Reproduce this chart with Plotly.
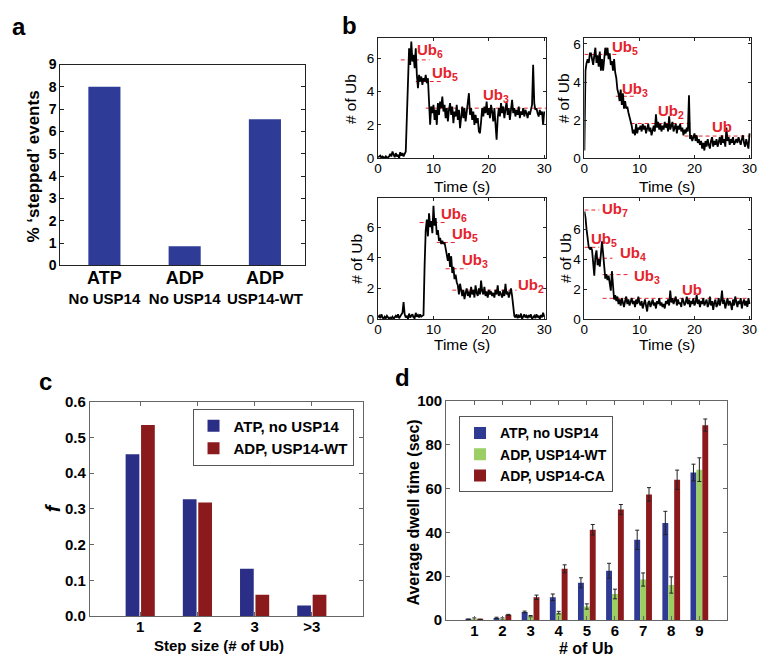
import plotly.graph_objects as go

FONT = "Liberation Sans, Arial, sans-serif"
W, H = 771, 670
BLUE = "#2f3a93"
RED = "#8b1a1c"
GREEN = "#9ccf63"
UBRED = "#e5232d"

# ---------------- Panel a ----------------
a_categories = ["ATP-No USP14", "ADP-No USP14", "ADP-USP14-WT"]
a_tick_top = ["ATP", "ADP", "ADP"]
a_tick_bottom = ["No USP14", "No USP14", "USP14-WT"]
a_values = [8.0, 0.85, 6.55]
a_yticks = [0, 1, 2, 3, 4, 5, 6, 7, 8, 9]

# ---------------- Panel b (single-molecule traces, dt = 0.2 s) ----------------
b_dt = 0.2
b1_values = [
    0.05, 0.1, 0.15, 0.0, 0.1, 0.05, 0.0, 0.1, 0.0, 0.05, 0.1, 0.25, 0.1, 0.4, 0.2,
    0.05, 0.3, 0.1, 0.2, 0.0, 0.35, 0.15, 0.3, 0.1, 0.25, 0.4,
    2.5, 5.2, 6.6, 5.6, 7.0, 5.8, 6.2, 5.4, 6.6, 5.0, 4.2, 5.0, 4.6, 4.9, 4.4, 4.8,
    4.6, 5.0, 4.5, 4.8, 3.6, 2.0, 3.1, 2.7, 3.2,
    2.3, 2.9, 2.0, 3.3, 2.6, 3.4, 3.0, 3.7, 2.8, 3.2,
    2.4, 3.0, 2.2, 2.9, 3.3, 2.6, 3.1, 2.1, 2.8, 2.5,
    3.2, 2.3, 2.9, 1.8, 2.7, 3.1, 2.4, 3.0, 2.2, 2.9,
    3.3, 3.9, 2.6, 3.0, 2.3, 2.8, 2.0, 2.6, 2.1, 2.4,
    1.6, 1.5, 2.2, 3.0, 2.5, 3.1, 2.7, 3.4, 2.6, 3.0,
    2.4, 3.2, 2.8, 2.2, 3.0, 2.0, 1.1, 2.4, 3.0, 2.5,
    3.3, 2.7, 3.1, 2.4, 2.9, 3.4, 2.6, 3.0, 2.3, 2.8,
    3.5, 2.7, 3.0, 2.5, 2.9, 2.6, 3.1, 2.4, 2.8, 2.6,
    3.0, 2.5, 2.9, 2.7, 2.4, 2.8, 2.6, 2.9, 3.2, 5.6,
    3.3, 2.9, 3.0, 2.7, 2.5, 2.9, 2.6, 2.8, 2.0, 2.8,
]
b2_values = [
    0.4, 4.6, 5.0, 5.2, 5.0, 5.5, 5.5, 5.2, 4.9, 5.4, 5.8, 5.0, 5.4, 4.8, 5.6,
    4.6, 5.2, 4.6, 5.5, 5.8, 5.4, 5.8, 5.2, 5.5, 4.9, 5.1, 4.6, 5.2, 4.5, 4.2,
    3.6, 3.4, 3.0, 3.6, 2.8, 3.4, 2.6, 3.0, 2.6, 2.7, 2.4, 2.2, 1.9, 1.7, 1.3,
    1.5, 1.2, 1.8, 1.3, 1.6, 1.5,
    1.7, 1.4, 1.8, 1.5, 1.7, 1.3, 1.6, 1.8, 1.4, 1.6,
    1.2, 1.5, 1.7, 1.4, 2.3, 1.6, 1.9, 1.5, 1.8, 1.4,
    1.7, 1.5, 1.9, 1.6, 1.8, 1.4, 2.2, 1.5, 1.7, 1.9,
    1.4, 1.6, 1.8, 1.3, 1.7, 1.5, 1.8, 1.4, 1.6, 1.2,
    1.5, 1.3, 1.6, 1.4, 3.3,
    1.0, 1.2, 0.9, 1.1, 1.3, 0.9, 1.2, 0.8, 1.0, 0.7,
    0.9, 0.5, 0.8, 0.4, 0.9, 0.6, 1.0, 0.7, 0.5, 0.9,
    1.1, 0.6, 0.9, 0.7, 1.0, 0.6, 0.8, 1.1, 0.7, 1.2,
    0.8, 1.0, 0.6, 1.6, 0.9, 1.1, 0.7, 1.0, 0.8, 1.1,
    0.7, 0.9, 1.0, 0.8, 1.1, 0.9, 0.7, 1.0, 1.2, 0.8,
    0.6, 1.0, 0.7, 0.5, 1.3,
]
b3_values = [
    0.1, 0.2, 0.05, 0.3, 0.1, 0.0, 0.15, 0.05, 0.2, 0.1,
    0.0, 0.1, 0.05, 0.15, 0.0, 0.1, 0.2, 0.1, 0.3, 0.05,
    0.15, 0.3, 0.4, 1.1, 0.3, 0.1, 0.2, 0.0, 0.35, 0.1,
    0.2, 0.3, 0.1, 0.05, 0.4, 0.15, 0.25, 0.1, 0.3, 0.15,
    0.2, 0.25,
    3.5, 5.8, 6.5, 5.4, 6.9, 6.0, 6.4, 5.6, 7.4, 6.1, 6.6, 5.5, 5.8, 5.1, 5.3,
    4.9, 5.1, 4.9, 5.0, 4.7, 4.2,
    3.8, 4.3, 3.4, 4.1, 3.0, 3.4, 2.6, 2.9, 2.4, 2.2, 1.6, 2.3, 1.9,
    1.5, 1.9, 1.3, 1.7, 2.0, 1.5, 1.8, 1.4, 2.1, 1.6,
    1.9, 1.4, 2.2, 1.7, 1.5, 2.0, 1.6, 2.5, 1.8, 1.6,
    2.1, 1.5, 1.8, 1.4, 1.9, 1.6, 1.8, 1.5, 1.7, 1.4,
    1.9, 1.6, 2.2, 1.5, 1.8, 1.6, 1.4, 1.9, 1.5, 2.3,
    1.6, 1.8, 1.4, 1.7, 2.0, 1.5,
    0.8, 0.2, 0.1, 0.3, 0.05, 0.2, 0.1, 0.35, 0.0, 0.15,
    0.3, 0.1, 0.2, 0.05, 0.25, 0.1, 0.3, 0.0, 0.15, 0.2,
    0.05, 0.3, 0.1, 0.2, 0.0, 0.25, 0.1, 0.4, 0.15,
]
b4_values = [
    7.2, 6.8, 6.0, 5.2, 4.8, 4.7, 4.8, 4.6, 3.8, 2.9,
    4.2, 4.6, 3.6, 4.0, 3.5, 4.2, 5.2, 4.4, 3.2, 2.7,
    3.0, 2.6, 2.9, 2.2, 1.9, 3.2, 2.4, 1.3, 1.6, 1.2,
    1.5, 1.0, 1.3, 0.9, 1.4, 1.1, 0.8, 1.2, 1.5, 1.0,
    1.3, 0.9, 1.1, 1.4, 1.0, 1.2, 0.8, 1.3, 1.0, 1.5,
    1.1, 0.9, 1.2, 0.7, 1.0, 1.3, 0.9, 0.5, 1.1, 1.2,
    0.8, 1.0, 1.3, 0.9, 1.1, 0.7, 1.2, 1.0, 1.4, 0.9,
    1.1, 0.8, 1.0, 0.7, 1.2, 1.0, 1.3, 0.9, 1.9, 1.1,
    1.4, 1.0, 1.2, 1.5, 0.9, 1.3, 1.0, 1.1, 0.8, 1.4,
    1.2, 0.9, 1.1, 1.5, 1.0, 1.3, 0.8, 1.2, 1.0, 1.4,
    0.9, 1.1, 1.6, 1.0, 1.3, 0.8, 1.2, 1.0, 1.4, 0.9,
    1.1, 1.3, 0.8, 1.0, 1.5, 0.9, 1.2, 0.6, 1.1, 1.3,
    0.8, 1.0, 1.4, 0.9, 1.2, 1.9, 1.0, 1.3, 0.7, 1.1,
    1.4, 0.9, 1.2, 1.0, 0.6, 1.3, 0.9, 1.5, 1.1, 0.8,
    1.2, 1.0, 1.4, 0.7, 1.1, 1.3, 0.9, 1.2, 0.8, 1.4,
    1.0,
]
b_xticks = [0, 10, 20, 30]
b_yticks = [0, 2, 4, 6]

# step levels (red dashed guides) and their labels
b1_levels = [5.9, 4.6, 3.0]
b1_starts = [4.1, 6.8, 8.6]
b1_ends = [9.3, 11.5, 30.5]
b1_labels = ["Ub<sub>6</sub>", "Ub<sub>5</sub>", "Ub<sub>3</sub>"]
b1_label_x = [6.7, 9.4, 18.6]
b1_label_y = [6.45, 5.1, 3.75]

b2_levels = [5.45, 3.25, 1.82, 1.16]
b2_starts = [0.0, 5.7, 8.4, 18.2]
b2_ends = [6.0, 9.3, 19.3, 30.0]
b2_labels = ["Ub<sub>5</sub>", "Ub<sub>3</sub>", "Ub<sub>2</sub>", "Ub"]
b2_label_x = [4.6, 6.5, 13.0, 22.8]
b2_label_y = [5.8, 3.6, 2.45, 1.64]

b3_levels = [6.3, 5.0, 3.28, 1.88]
b3_starts = [7.5, 10.6, 12.2, 13.4]
b3_ends = [12.2, 14.0, 16.1, 25.0]
b3_labels = ["Ub<sub>6</sub>", "Ub<sub>5</sub>", "Ub<sub>3</sub>", "Ub<sub>2</sub>"]
b3_label_x = [11.0, 13.0, 14.8, 24.9]
b3_label_y = [6.8, 5.55, 3.85, 2.2]

b4_levels = [7.3, 4.8, 4.07, 2.97, 1.38]
b4_starts = [0.0, 0.0, 2.1, 3.3, 3.3]
b4_ends = [2.7, 2.7, 5.1, 8.1, 30.0]
b4_labels = ["Ub<sub>7</sub>", "Ub<sub>5</sub>", "Ub<sub>4</sub>", "Ub<sub>3</sub>", "Ub"]
b4_label_x = [2.9, 0.9, 6.1, 8.6, 17.3]
b4_label_y = [7.35, 5.35, 4.4, 2.85, 2.0]

# ---------------- Panel c ----------------
c_categories = ["1", "2", "3", ">3"]
c_atp_no_usp14 = [0.453, 0.327, 0.133, 0.03]
c_adp_usp14_wt = [0.535, 0.318, 0.06, 0.06]
c_yticks = [0, 0.1, 0.2, 0.3, 0.4, 0.5, 0.6]

# ---------------- Panel d ----------------
d_num_ub = [1, 2, 3, 4, 5, 6, 7, 8, 9]
d_atp = [0.3, 1.0, 3.7, 10.4, 17.0, 22.5, 36.6, 44.3, 67.3]
d_atp_err = [0.2, 0.3, 0.4, 1.5, 2.3, 3.4, 4.4, 5.3, 3.8]
d_wt = [0.2, 0.5, 1.8, 3.4, 6.2, 11.9, 18.5, 16.0, 68.6]
d_wt_err = [0.8, 0.5, 0.3, 0.6, 1.2, 2.2, 3.0, 3.7, 5.4]
d_ca = [0.2, 2.4, 10.4, 23.4, 41.2, 50.4, 57.3, 64.0, 88.9]
d_ca_err = [0.2, 0.2, 1.0, 1.8, 2.4, 2.3, 3.1, 4.4, 2.8]
d_yticks = [0, 20, 40, 60, 80, 100]


def px_x(p):
    return p / W


def px_y(p):
    return 1 - p / H


fig = go.Figure()

# panel a bars
fig.add_trace(go.Bar(x=a_categories, y=a_values, marker=dict(color="#2e3c97", line=dict(width=0)),
                     width=0.4, offset=-0.2, xaxis="x", yaxis="y", showlegend=False))

# panel b traces
b_traces = [b1_values, b2_values, b3_values, b4_values]
b_steps = [
    (b1_levels, b1_starts, b1_ends, b1_labels, b1_label_x, b1_label_y),
    (b2_levels, b2_starts, b2_ends, b2_labels, b2_label_x, b2_label_y),
    (b3_levels, b3_starts, b3_ends, b3_labels, b3_label_x, b3_label_y),
    (b4_levels, b4_starts, b4_ends, b4_labels, b4_label_x, b4_label_y),
]
annotations = []
for i, vals in enumerate(b_traces):
    ax = str(i + 2)
    levels, starts, ends, labels, lx, ly = b_steps[i]
    for lev, s, e in zip(levels, starts, ends):
        fig.add_trace(go.Scatter(x=[s, e], y=[lev, lev], mode="lines",
                                 line=dict(color=UBRED, width=1, dash="4px,3px"),
                                 xaxis="x" + ax, yaxis="y" + ax, showlegend=False))
    fig.add_trace(go.Scatter(y=vals, x0=0, dx=b_dt, mode="lines",
                             line=dict(color="black", width=1.8),
                             xaxis="x" + ax, yaxis="y" + ax, showlegend=False))
    for t, x, y in zip(labels, lx, ly):
        annotations.append(dict(text="<b>" + t + "</b>", x=x, y=y, xref="x" + ax, yref="y" + ax,
                                xanchor="left", yanchor="middle", showarrow=False,
                                font=dict(family=FONT, size=15, color=UBRED)))

# panel c bars
fig.add_trace(go.Bar(x=c_categories, y=c_atp_no_usp14, name="ATP, no USP14",
                     marker=dict(color="#2b2e86", line=dict(width=0)), width=0.24, offset=-0.255,
                     xaxis="x6", yaxis="y6", legend="legend"))
fig.add_trace(go.Bar(x=c_categories, y=c_adp_usp14_wt, name="ADP, USP14-WT",
                     marker=dict(color=RED, line=dict(width=0)), width=0.24, offset=0.015,
                     xaxis="x6", yaxis="y6", legend="legend"))

# panel d bars
err_style = dict(type="data", thickness=1, width=2, color="#222222")
fig.add_trace(go.Bar(x=d_num_ub, y=d_atp, name="ATP, no USP14",
                     marker=dict(color=BLUE, line=dict(width=0)), width=0.21, offset=-0.315,
                     error_y=dict(array=d_atp_err, **err_style),
                     xaxis="x7", yaxis="y7", legend="legend2"))
fig.add_trace(go.Bar(x=d_num_ub, y=d_wt, name="ADP, USP14-WT",
                     marker=dict(color=GREEN, line=dict(width=0)), width=0.21, offset=-0.105,
                     error_y=dict(array=d_wt_err, **err_style),
                     xaxis="x7", yaxis="y7", legend="legend2"))
fig.add_trace(go.Bar(x=d_num_ub, y=d_ca, name="ADP, USP14-CA",
                     marker=dict(color=RED, line=dict(width=0)), width=0.21, offset=0.105,
                     error_y=dict(array=d_ca_err, **err_style),
                     xaxis="x7", yaxis="y7", legend="legend2"))

BOLD14 = dict(family=FONT, size=14, color="black", weight="bold")
BOLD15 = dict(family=FONT, size=15, color="black", weight="bold")
NORM13 = dict(family=FONT, size=13.5, color="black")


def box_axis(domain, anchor, rng, linecolor="#333333", ticks="inside", ticklen=4, **kw):
    d = dict(domain=domain, anchor=anchor, range=rng, showline=True, linecolor=linecolor,
             linewidth=1, mirror="ticks" if ticks else True, ticks=ticks, ticklen=ticklen,
             tickcolor=linecolor, showgrid=False, zeroline=False, fixedrange=True)
    d.update(kw)
    return d


a_ticktext = ["<span style='font-size:18px'>" + t + "</span><br>" + b
              for t, b in zip(a_tick_top, a_tick_bottom)]

layout = dict(
    width=W, height=H, margin=dict(l=0, r=0, t=0, b=0),
    paper_bgcolor="white", plot_bgcolor="white", barmode="overlay",
    font=dict(family=FONT, color="black"),
    # panel a
    xaxis=box_axis([px_x(57), px_x(305)], "y", [-0.55, 2.5], ticks="",
                   tickmode="array", tickvals=a_categories, ticktext=a_ticktext,
                   tickfont=dict(family=FONT, size=15, color="black", weight="bold"), linecolor="#222222"),
    yaxis=box_axis([px_y(263), px_y(57)], "x", [0, 9], tickvals=a_yticks, tickfont=BOLD14,
                   linecolor="#222222"),
    # panel b
    xaxis2=box_axis([px_x(379), px_x(549)], "y2", [0, 30.3], tickvals=b_xticks, tickfont=NORM13,
                    linecolor="#222222", ticklen=3, ticklabelstandoff=-2),
    yaxis2=box_axis([px_y(153), px_y(30)], "x2", [0, 7.2], tickvals=b_yticks, tickfont=NORM13,
                    linecolor="#222222", ticklen=3),
    xaxis3=box_axis([px_x(588), px_x(757)], "y3", [0, 30.3], tickvals=b_xticks, tickfont=NORM13,
                    linecolor="#222222", ticklen=3, ticklabelstandoff=-2),
    yaxis3=box_axis([px_y(153), px_y(30)], "x3", [0, 6.3], tickvals=b_yticks, tickfont=NORM13,
                    linecolor="#222222", ticklen=3),
    xaxis4=box_axis([px_x(379), px_x(549)], "y4", [0, 30.3], tickvals=b_xticks, tickfont=NORM13,
                    linecolor="#222222", ticklen=3, ticklabelstandoff=-2),
    yaxis4=box_axis([px_y(318), px_y(194)], "x4", [0, 7.9], tickvals=b_yticks, tickfont=NORM13,
                    linecolor="#222222", ticklen=3),
    xaxis5=box_axis([px_x(588), px_x(757)], "y5", [0, 30.3], tickvals=b_xticks, tickfont=NORM13,
                    linecolor="#222222", ticklen=3, ticklabelstandoff=-2),
    yaxis5=box_axis([px_y(318), px_y(194)], "x5", [0, 8.1], tickvals=b_yticks, tickfont=NORM13,
                    linecolor="#222222", ticklen=3),
    # panel c
    xaxis6=box_axis([px_x(87), px_x(364)], "y6", [-0.88, 3.9], tickmode="array",
                    tickvals=c_categories, ticktext=c_categories, tickfont=BOLD15, linecolor="#666666",
                    ticklabelstandoff=-3),
    yaxis6=box_axis([px_y(623), px_y(403)], "x6", [0, 0.6], tickvals=c_yticks,
                    tickformat=".1f", tickfont=BOLD15, linecolor="#666666"),
    # panel d
    xaxis7=box_axis([px_x(448), px_x(733)], "y7", [0, 10], tickvals=d_num_ub, tickfont=BOLD15,
                    linecolor="#666666", ticklabelstandoff=-3),
    yaxis7=box_axis([px_y(627), px_y(402)], "x7", [0, 100], tickvals=d_yticks, tickfont=BOLD15,
                    linecolor="#666666"),
    legend=dict(x=px_x(191), y=px_y(410), xanchor="left", yanchor="top",
                bordercolor="#555555", borderwidth=1, bgcolor="white",
                font=dict(family=FONT, size=15, color="black", weight="bold"),
                tracegroupgap=0, itemsizing="constant"),
    legend2=dict(x=px_x(461), y=px_y(418), xanchor="left", yanchor="top",
                 bordercolor="#555555", borderwidth=1, bgcolor="white",
                 font=dict(family=FONT, size=14, color="black", weight="bold"),
                 tracegroupgap=0, itemsizing="constant"),
)


def ptext(text, x, y, size, angle=0, bold=True, italic=False):
    t = text
    if bold:
        t = "<b>" + t + "</b>"
    if italic:
        t = "<i>" + t + "</i>"
    return dict(text=t, x=px_x(x), y=px_y(y), xref="paper", yref="paper", showarrow=False,
                xanchor="center", yanchor="middle", textangle=angle,
                font=dict(family=FONT, size=size, color="black"))


# panel letters
annotations += [
    ptext("a", 15, 18, 24), ptext("b", 350, 17, 24),
    ptext("c", 42, 382, 24), ptext("d", 404, 378, 24),
]
# axis titles
annotations += [
    ptext("% \u2018stepped\u2019 events", 30, 162, 17, angle=-90),
    ptext("# of Ub", 351, 92, 15.5, angle=-90, bold=False),
    ptext("# of Ub", 567, 92, 15.5, angle=-90, bold=False),
    ptext("# of Ub", 357, 256, 15.5, angle=-90, bold=False),
    ptext("# of Ub", 569, 256, 15.5, angle=-90, bold=False),
    ptext("Time (s)", 464, 182, 15.5, bold=False),
    ptext("Time (s)", 672, 182, 15.5, bold=False),
    ptext("Time (s)", 464, 344, 15.5, bold=False),
    ptext("Time (s)", 672, 344, 15.5, bold=False),
    ptext("f", 50, 512, 20, angle=-90, italic=True),
    ptext("Step size (# of Ub)", 218, 653, 15),
    ptext("Average dwell time (sec)", 415, 517, 16, angle=-90),
    ptext("# of Ub", 590, 656, 16),
]
layout["annotations"] = annotations

fig.update_layout(**layout)
fig.write_html("out.html", config={"displayModeBar": False},
               post_script="document.body.style.margin='0';")
